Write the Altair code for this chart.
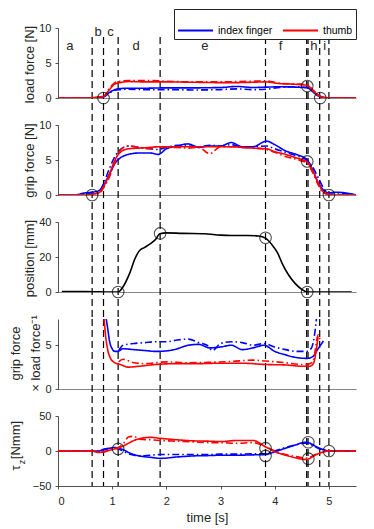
import altair as alt
import pandas as pd

# ---------------- data ----------------
T_MAX = 5.5
event_t = [0.63, 0.84, 1.11, 1.885, 3.83, 4.59, 4.615, 4.83, 5.0]
phase_letters = ["a", "b", "c", "d", "e", "f", "g", "h", "i"]
letter_t = [0.22, 0.74, 0.97, 1.44, 2.71, 4.11, 4.58, 4.72, 4.92]
letter_v = [7.4, 9.5, 9.5, 7.4, 7.4, 7.4, 9.8, 7.4, 7.4]

fingers = ["index finger", "thumb"]
finger_colors = ["#0000ff", "#ff0000"]

# panel 1 : load force [N]
load_t = [0, 0.5, 0.7, 0.84, 0.95, 1.05, 1.15, 1.3, 1.6, 2.0, 2.5, 3.0, 3.3, 3.6, 3.83, 4.1, 4.4, 4.6, 4.7, 4.8, 4.9, 5.0, 5.5]
load_index_1 = [0, 0, 0.05, 0.2, 0.8, 1.2, 1.35, 1.4, 1.4, 1.45, 1.45, 1.5, 1.65, 1.5, 1.55, 1.6, 1.55, 1.45, 0.9, 0.3, 0.05, 0, 0]
load_index_2 = [0, 0, 0.05, 0.15, 0.7, 1.1, 1.2, 1.25, 1.2, 1.2, 1.15, 1.2, 1.3, 1.2, 1.25, 1.5, 1.6, 1.5, 1.0, 0.4, 0.1, 0, 0]
load_thumb_1 = [0, 0, 0.1, 0.25, 1.2, 2.0, 2.2, 2.35, 2.3, 2.3, 2.25, 2.2, 2.2, 2.25, 2.3, 2.05, 1.95, 1.8, 1.1, 0.4, 0.1, 0, 0]
load_thumb_2 = [0, 0, 0.05, 0.2, 1.4, 2.2, 2.4, 2.5, 2.5, 2.4, 2.3, 2.3, 2.35, 2.4, 2.45, 2.1, 2.0, 1.85, 1.2, 0.5, 0.1, 0, 0]
load_circ_t = [0.84, 4.6, 4.84]
load_circ_v = [0, 1.7, 0]

# panel 2 : grip force [N]
grip_t = [0, 0.3, 0.5, 0.63, 0.75, 0.84, 0.95, 1.05, 1.15, 1.3, 1.5, 1.7, 1.85, 2.0, 2.2, 2.4, 2.6, 2.8, 3.0, 3.2, 3.4, 3.6, 3.85, 4.0, 4.2, 4.4, 4.6, 4.7, 4.8, 4.9, 5.0, 5.1, 5.3, 5.5]
grip_index_1 = [0, 0, 0.3, 0.4, 0.6, 1.4, 3.0, 4.5, 5.3, 5.8, 6.0, 6.0, 5.8, 6.6, 7.0, 7.3, 6.8, 7.0, 7.0, 7.5, 6.9, 6.9, 7.7, 7.2, 6.3, 5.8, 5.0, 3.6, 1.8, 0.7, 0.3, 0.4, 0.3, 0]
grip_index_2 = [0, 0, 0.1, 0.2, 0.4, 1.6, 3.8, 5.5, 6.5, 7.0, 6.8, 6.6, 6.5, 6.8, 7.1, 7.0, 6.9, 7.1, 7.0, 7.2, 6.8, 6.9, 7.0, 6.6, 6.1, 5.6, 4.9, 4.0, 2.5, 1.0, 0.3, 0.3, 0.2, 0]
grip_thumb_1 = [0, 0, 0, 0.1, 0.3, 1.2, 3.0, 5.0, 6.1, 6.6, 6.7, 6.8, 6.9, 6.9, 6.9, 6.9, 6.9, 6.9, 6.9, 6.9, 6.8, 6.7, 6.6, 6.2, 5.8, 5.3, 4.7, 3.5, 1.8, 0.4, 0.1, 0, 0, 0]
grip_thumb_2 = [0, 0, 0, 0.05, 0.2, 1.0, 2.6, 4.6, 6.4, 7.0, 6.8, 6.6, 6.9, 6.8, 6.8, 6.7, 6.8, 5.9, 6.9, 6.9, 6.8, 6.7, 6.5, 6.1, 5.5, 5.1, 4.5, 3.2, 1.5, 0.3, 0.1, 0, 0, 0]
grip_circ_t = [0.63, 4.6, 5.0]
grip_circ_v = [0, 4.8, 0]

# panel 3 : position [mm]
pos_t = [0.07, 0.5, 1.0, 1.11, 1.2, 1.32, 1.42, 1.5, 1.6, 1.7, 1.8, 1.88, 2.0, 2.3, 2.7, 3.0, 3.2, 3.5, 3.7, 3.83, 3.95, 4.05, 4.15, 4.25, 4.38, 4.5, 4.6, 5.0, 5.42]
pos_v = [0.3, 0.3, 0, 0, 3, 10.5, 19, 23.5, 25.5, 27.5, 30, 33.3, 33.8, 33.5, 33.3, 32.5, 32.3, 32.3, 32, 30.8, 27, 22.5, 15.5, 10, 4.8, 1.5, 0, 0, 0]
pos_circ_t = [1.11, 1.885, 3.83, 4.6]
pos_circ_v = [0, 33.5, 31, 0]

# panel 4 : grip force x load force^-1
ratio_index_1_t = [0.89, 0.92, 0.95, 1.0, 1.05, 1.1, 1.2, 1.4, 1.6, 1.8, 2.0, 2.2, 2.4, 2.6, 2.8, 3.0, 3.2, 3.4, 3.6, 3.8, 4.0, 4.2, 4.4, 4.6, 4.7, 4.8, 4.9]
ratio_index_1 = [8, 6.8, 5.5, 4.6, 4.3, 4.3, 4.6, 4.5, 4.4, 4.3, 4.35, 4.6, 5.0, 5.1, 4.7, 4.8, 5.0, 4.5, 4.7, 5.0, 4.3, 3.9, 3.6, 3.5, 3.7, 4.6, 5.5]
ratio_index_2_t = [1.12, 1.2, 1.4, 1.6, 1.8, 2.0, 2.2, 2.4, 2.6, 2.75, 2.85, 3.0, 3.2, 3.4, 3.6, 3.8, 4.0, 4.2, 4.4, 4.6, 4.68, 4.73, 4.77]
ratio_index_2 = [4.4, 5.0, 5.2, 5.3, 5.4, 5.4, 5.6, 5.7, 5.3, 5.0, 4.4, 5.2, 5.4, 5.3, 5.0, 5.2, 4.8, 4.5, 4.3, 4.3, 4.7, 6.0, 8.0]
ratio_thumb_1_t = [0.85, 0.88, 0.92, 0.97, 1.05, 1.15, 1.3, 1.5, 1.8, 2.2, 2.6, 3.0, 3.4, 3.83, 4.2, 4.5, 4.65, 4.72, 4.76, 4.8]
ratio_thumb_1 = [8, 6.0, 4.4, 3.5, 3.0, 2.8, 2.5, 2.6, 2.8, 2.9, 2.9, 2.95, 2.95, 2.8, 2.75, 2.6, 2.6, 3.0, 4.2, 6.0]
ratio_thumb_2_t = [1.12, 1.2, 1.4, 1.6, 2.0, 2.4, 2.8, 3.2, 3.6, 3.83, 4.2, 4.5, 4.65, 4.72, 4.76, 4.8, 4.84]
ratio_thumb_2 = [3.1, 3.4, 3.0, 2.9, 3.1, 3.0, 3.05, 3.15, 3.3, 3.2, 3.0, 2.8, 2.9, 3.4, 5.0, 6.2, 5.5]

# panel 5 : tau_z [Nmm]
tau_t = [0, 0.6, 0.75, 0.84, 0.95, 1.05, 1.11, 1.2, 1.3, 1.4, 1.5, 1.7, 1.9, 2.2, 2.5, 2.8, 3.0, 3.3, 3.6, 3.83, 4.0, 4.2, 4.4, 4.55, 4.62, 4.7, 4.8, 4.9, 5.0, 5.2, 5.5]
tau_thumb_1 = [0, 0, -2, -1.5, 1, 3, 4, 7, 11, 15, 17.5, 19.5, 18, 16, 14.5, 14, 13.5, 15, 15, 6, -1, -6, -10, -12, -11.5, -8, -4, -1.5, 0, 0, 0]
tau_thumb_2 = [0, 0, -1, -1, 2, 4, 5, 10, 20, 21, 17, 16, 15, 14, 13, 12, 12, 11, 12, 6, 0, -5, -8, -10, -10, -7, -3, -1, 0, 0, 0]
tau_index_1 = [0, 0, 0, 2.5, 4, 5, 4, 2, -2, -5, -7, -9, -10.5, -8.5, -7, -6.5, -6, -6, -5.5, -5, -1, 4, 9, 12.5, 12, 9, 5, 2, 0, 0, 0]
tau_index_2 = [0, 0, 0, 2, 3, 4, 3, 0, -4, -6, -7, -6, -5, -5, -5, -5, -4.5, -4.5, -4, -4, 0, 5, 9, 11, 11, 8, 4, 1.5, 0, 0, 0]
tau_circ_t = [1.11, 3.83, 3.83, 4.62, 4.62, 5.0]
tau_circ_v = [3, 4, -7, 12.5, -11, 0]

x_tick_values = [0, 1, 2, 3, 4, 5]

# ---------------- helpers ----------------
AX = "#262626"
FONT = "Liberation Sans"
H = 70
W = 298
GAP = 27


def series(t, v, finger, trial):
    return pd.DataFrame({"t": t, "v": v, "finger": finger, "trial": trial})


events_df = pd.DataFrame({"t": event_t})
letters_df = pd.DataFrame({"t": letter_t, "v": letter_v, "s": phase_letters})

x_scale = alt.Scale(domain=[0, T_MAX], nice=False, zero=False)
color_scale = alt.Scale(domain=fingers, range=finger_colors)
dash_scale = alt.Scale(domain=["1", "2"], range=[[1, 0], [7, 3, 1.5, 3]])


def panel(lines_df, ydom, yticks, circ_t, circ_v, ytitle, tx, ty,
          rule_top, rule_bottom, bottom_axis=False, legend=None,
          black=False, extra=()):
    if bottom_axis:
        x_axis = alt.Axis(values=x_tick_values, format="d", title="time [s]",
                          tickSize=3, labelPadding=6, titlePadding=5,
                          grid=False, domainColor=AX, tickColor=AX)
    else:
        x_axis = alt.Axis(labels=False, ticks=False, title=None, grid=False,
                          domainColor="#666666")
    y_scale = alt.Scale(domain=ydom, nice=False, zero=False)
    y_axis = alt.Axis(values=yticks, title=ytitle, titleX=tx, titleY=ty,
                      titleAlign="center", titleBaseline="middle",
                      titleAngle=270, titleLineHeight=20,
                      tickSize=3, labelPadding=4, grid=False)
    X = alt.X("t:Q", scale=x_scale, axis=x_axis)
    Y = alt.Y("v:Q", scale=y_scale, axis=y_axis)

    rules = alt.Chart(events_df).mark_rule(
        color="black", strokeWidth=1.2, strokeDash=[7, 4]
    ).encode(x=X, y=alt.value(rule_top), y2=alt.value(rule_bottom))

    if black:
        lines = alt.Chart(lines_df).mark_line(
            color="black", strokeWidth=1.6, interpolate="monotone", clip=True
        ).encode(x=X, y=Y)
    else:
        col_kwargs = {"scale": color_scale}
        if legend is None:
            col_kwargs["legend"] = None
        else:
            col_kwargs["legend"] = legend
        lines = alt.Chart(lines_df).mark_line(
            strokeWidth=1.6, interpolate="monotone", clip=True
        ).encode(
            x=X, y=Y,
            color=alt.Color("finger:N", **col_kwargs),
            strokeDash=alt.StrokeDash("trial:N", scale=dash_scale, legend=None),
        )
    layers = [rules, lines]
    if circ_t:
        circ_df = pd.DataFrame({"t": circ_t, "v": circ_v})
        circles = alt.Chart(circ_df).mark_point(
            shape="circle", size=135, filled=False, color="black", strokeWidth=1.1
        ).encode(x=X, y=Y)
        layers.append(circles)
    for e in extra:
        layers.append(e(X, Y))
    return alt.layer(*layers).properties(width=W, height=H)


# panel 1
load_df = pd.concat([
    series(load_t, load_index_1, "index finger", "1"),
    series(load_t, load_index_2, "index finger", "2"),
    series(load_t, load_thumb_1, "thumb", "1"),
    series(load_t, load_thumb_2, "thumb", "2"),
])


def letters_layer(X, Y):
    return alt.Chart(letters_df).mark_text(
        fontSize=13, font=FONT, color=AX, baseline="middle", align="center"
    ).encode(x=X, y=Y, text="s:N")


legend = alt.Legend(orient="none", legendX=116, legendY=-19, direction="horizontal",
                    title=None, symbolType="stroke", symbolSize=1225,
                    symbolStrokeWidth=2, labelFontSize=10.5, labelFont=FONT,
                    labelColor="black", strokeColor=AX, fillColor="white",
                    padding=3, columnPadding=6, labelOffset=4, cornerRadius=0)

p1 = panel(load_df, [0, 10], [0, 5, 10], load_circ_t, load_circ_v,
           "load force [N]", -29, 36, 9, H + GAP, legend=legend,
           extra=[letters_layer])

# panel 2
grip_df = pd.concat([
    series(grip_t, grip_index_1, "index finger", "1"),
    series(grip_t, grip_index_2, "index finger", "2"),
    series(grip_t, grip_thumb_1, "thumb", "1"),
    series(grip_t, grip_thumb_2, "thumb", "2"),
])
p2 = panel(grip_df, [0, 10], [0, 5, 10], grip_circ_t, grip_circ_v,
           "grip force [N]", -29, 35, 0, H + GAP)

# panel 3
pos_df = pd.DataFrame({"t": pos_t, "v": pos_v})
p3 = panel(pos_df, [0, 40], [0, 20, 40], pos_circ_t, pos_circ_v,
           "position [mm]", -29, 36, 0, H + GAP, black=True)

# panel 4
ratio_df = pd.concat([
    series(ratio_index_1_t, ratio_index_1, "index finger", "1"),
    series(ratio_index_2_t, ratio_index_2, "index finger", "2"),
    series(ratio_thumb_1_t, ratio_thumb_1, "thumb", "1"),
    series(ratio_thumb_2_t, ratio_thumb_2, "thumb", "2"),
])
p4 = panel(ratio_df, [0, 8], [0, 5], [], [],
           ["grip force", "\u00d7 load force\u207b\u00b9"], -42.5, 34, 0, H + GAP)

# panel 5
tau_df = pd.concat([
    series(tau_t, tau_index_1, "index finger", "1"),
    series(tau_t, tau_index_2, "index finger", "2"),
    series(tau_t, tau_thumb_1, "thumb", "1"),
    series(tau_t, tau_thumb_2, "thumb", "2"),
])


def tau_title(X, Y):
    parts = pd.DataFrame({"s": ["[Nmm]"]})
    a = alt.Chart(parts).mark_text(angle=270, fontSize=13, font=FONT, color=AX,
                                   x=-42, y=24, align="center", baseline="middle"
                                   ).encode(text="s:N")
    b = alt.Chart(parts).mark_text(angle=270, fontSize=13, font=FONT, color=AX,
                                   x=-42, y=52, align="center", baseline="middle",
                                   text="\u03c4")
    c = alt.Chart(parts).mark_text(angle=270, fontSize=9, font=FONT, color=AX,
                                   x=-36, y=46, align="center", baseline="middle",
                                   text="z")
    return alt.layer(a, b, c)


p5 = panel(tau_df, [-50, 50], [-50, 0, 50], tau_circ_t, tau_circ_v,
           None, -40, 30, 0, H, bottom_axis=True, extra=[tau_title])

chart = alt.vconcat(p1, p2, p3, p4, p5, spacing=GAP, bounds="flush").resolve_scale(
    color="independent", strokeDash="independent"
).properties(
    padding={"left": 1, "top": 0, "right": 5, "bottom": 2}
).configure_view(stroke=None).configure_axis(
    labelFont=FONT, titleFont=FONT, labelFontSize=11, titleFontSize=13,
    titleFontWeight="normal", labelColor=AX, titleColor=AX,
    domainColor=AX, tickColor=AX, domainWidth=0.8, tickWidth=0.8
)

chart.save("out.html", embed_options={"renderer": "svg", "actions": False})
